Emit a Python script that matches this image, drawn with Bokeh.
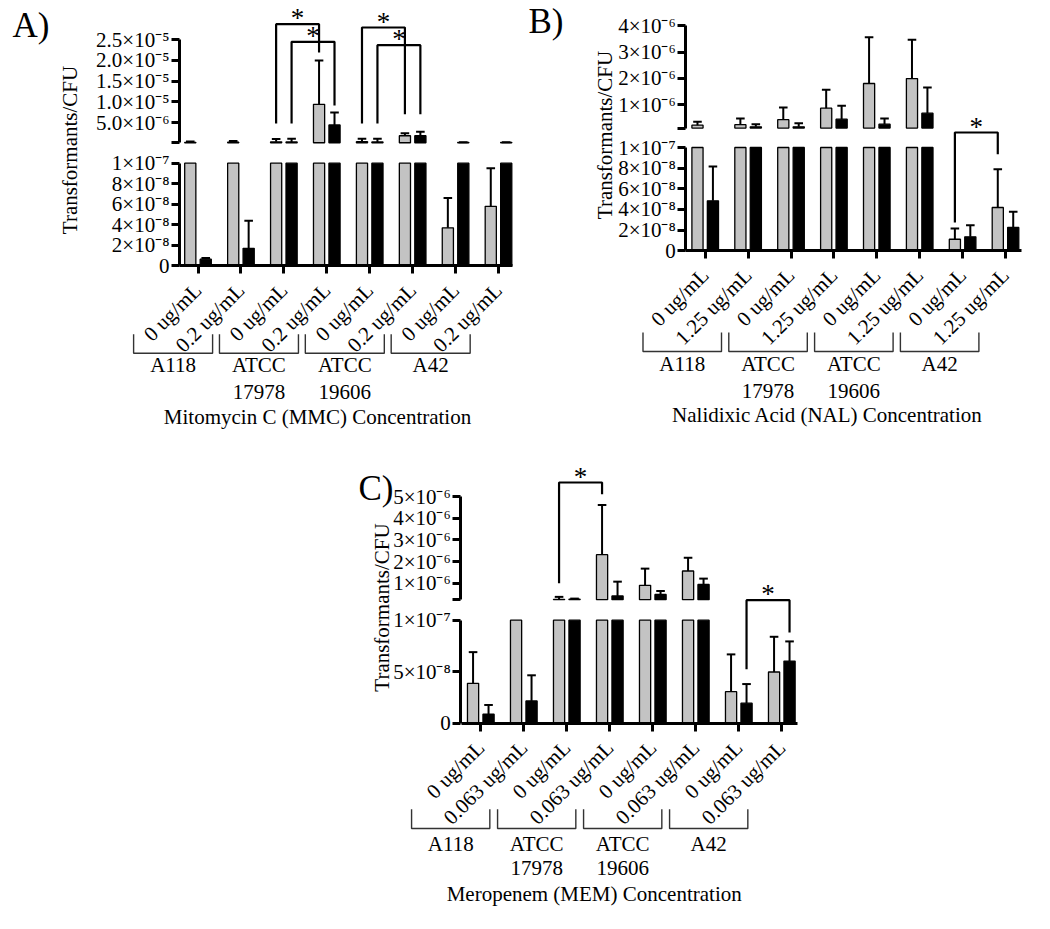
import numpy as np
from math import pi
from bokeh.plotting import figure
from bokeh.models import Range1d, LinearAxis, FixedTicker
from bokeh.core.properties import value
from bokeh.embed import file_html
from bokeh.resources import INLINE

FONT = "Liberation Serif"
GRAY = "#c3c3c3"

# ---------------- data ----------------
strains = ["A118", "ATCC 17978", "ATCC 19606", "A42"]
conc_A = ["0 ug/mL", "0.2 ug/mL"] * 4
conc_B = ["0 ug/mL", "1.25 ug/mL"] * 4
conc_C = ["0 ug/mL", "0.063 ug/mL"] * 4

A_gray = [2.0e-7, 2.5e-7, 3.3e-7, 9.4e-6, 3.5e-7, 1.8e-6, 3.7e-8, 5.8e-8]
A_gray_sd = [2.0e-7, 3.0e-7, 6.5e-7, 1.06e-5, 7.5e-7, 6.0e-7, 2.9e-8, 3.7e-8]
A_black = [6.5e-9, 1.7e-8, 3.0e-7, 4.4e-6, 3.0e-7, 1.8e-6, 2.0e-7, 2.0e-7]
A_black_sd = [1.0e-9, 2.7e-8, 7.5e-7, 3.0e-6, 7.5e-7, 9.5e-7, 5e-8, 5e-8]

B_gray = [2.1e-7, 2.3e-7, 4.2e-7, 8.6e-7, 1.8e-6, 1.99e-6, 1.12e-8, 4.19e-8]
B_gray_sd = [1.3e-7, 2.4e-7, 4.7e-7, 7.0e-7, 1.76e-6, 1.48e-6, 1.04e-8, 3.71e-8]
B_black = [4.84e-8, 1.5e-7, 1.5e-7, 4.4e-7, 2.5e-7, 6.7e-7, 1.35e-8, 2.26e-8]
B_black_sd = [3.32e-8, 1.0e-7, 1.4e-7, 5.1e-7, 2.2e-7, 9.8e-7, 1.13e-8, 1.51e-8]

C_gray = [3.87e-8, 1.8e-7, 2.6e-7, 2.32e-6, 9.1e-7, 1.57e-6, 3.06e-8, 4.97e-8]
C_gray_sd = [3.03e-8, 2.0e-8, 1.2e-7, 2.29e-6, 7.7e-7, 6.1e-7, 3.62e-8, 3.42e-8]
C_black = [8.7e-9, 2.16e-8, 2.7e-7, 4.2e-7, 4.9e-7, 9.5e-7, 1.94e-8, 6.03e-8]
C_black_sd = [9.0e-9, 2.49e-8, 3.0e-8, 6.6e-7, 1.6e-7, 2.7e-7, 1.86e-8, 1.91e-8]

A_hi_ticks = [1e-7, 5e-6, 1e-5, 1.5e-5, 2e-5, 2.5e-5]
A_hi_labels = ["", "5.0×10⁻⁶", "1.0×10⁻⁵", "1.5×10⁻⁵", "2.0×10⁻⁵", "2.5×10⁻⁵"]
A_lo_ticks = [0, 2e-8, 4e-8, 6e-8, 8e-8, 1e-7]
A_lo_labels = ["0", "2×10⁻⁸", "4×10⁻⁸", "6×10⁻⁸", "8×10⁻⁸", "1×10⁻⁷"]
B_hi_ticks = [1e-7, 1e-6, 2e-6, 3e-6, 4e-6]
B_hi_labels = ["", "1×10⁻⁶", "2×10⁻⁶", "3×10⁻⁶", "4×10⁻⁶"]
B_lo_ticks = A_lo_ticks
B_lo_labels = A_lo_labels
C_hi_ticks = [2.5e-7, 1e-6, 2e-6, 3e-6, 4e-6, 5e-6]
C_hi_labels = ["", "1×10⁻⁶", "2×10⁻⁶", "3×10⁻⁶", "4×10⁻⁶", "5×10⁻⁶"]
C_lo_ticks = [0, 5e-8, 1e-7]
C_lo_labels = ["0", "5×10⁻⁸", "1×10⁻⁷"]

# significance brackets: (left category, right category, side, y at start, y top, y end)
A_sig = [(2, 3, -1, 131, 31.7, 60), (2, 3, 1, 131, 49.3, 113),
         (4, 5, -1, 131, 35, 121.7), (4, 5, 1, 131, 52.7, 121.7)]
B_sig = [(6, 7, -1, 230, 140, 161.7)]
C_sig = [(2, 3, -1, 590.7, 490, 501.7), (6, 7, 1, 676.7, 607.7, 640)]

# ---------------- figure ----------------
W, H = 1034, 913
X_LO, X_HI = 8, 8 + W
Y_BOT, Y_TOP = 8 + H, 8

p = figure(width=W, height=H, x_range=Range1d(X_LO, X_HI), y_range=Range1d(Y_BOT, Y_TOP),
           x_axis_type=None, y_axis_type=None, output_backend="svg", toolbar_location=None,
           min_border=0)
p.grid.visible = False
p.outline_line_color = None


def rng(v0, p0, v1, p1, lo, hi):
    k = (v1 - v0) / (p1 - p0)
    return Range1d(start=v0 + (lo - p0) * k, end=v0 + (hi - p0) * k)


OFF = 0.18
BW = 0.26
CAP = 0.2
LO_MAX = 1e-7


def txt(x, y, s, size="21px", align="center", baseline="middle", angle=0, xr="default"):
    p.text(x=[x], y=[y], text=[s], text_font=value(FONT), text_font_size=size,
           text_align=align, text_baseline=baseline, angle=angle, text_color="black",
           x_range_name=xr)


def panel(key, grays, gsd, blacks, bsd, labels, cfg):
    xr, ylo, yhi = key + "x", key + "lo", key + "hi"
    p.extra_x_ranges[xr] = rng(0, cfg["xt0"], 7, cfg["xt7"], X_LO, X_HI)
    p.extra_y_ranges[ylo] = rng(0, cfg["lo0"], LO_MAX, cfg["lo1"], Y_BOT, Y_TOP)
    (v0, p0), (v1, p1) = cfg["hi"]
    p.extra_y_ranges[yhi] = rng(v0, p0, v1, p1, Y_BOT, Y_TOP)
    base = cfg["base"]
    idx = np.arange(len(labels))
    for off, means, sds, color in [(-OFF, grays, gsd, GRAY), (OFF, blacks, bsd, "black")]:
        means = np.array(means)
        sds = np.array(sds)
        x = idx + off
        # lower segment
        p.vbar(x=x, top=np.minimum(means, LO_MAX), bottom=0, width=BW, fill_color=color,
               line_color="black", line_width=1.3, x_range_name=xr, y_range_name=ylo)
        m = means < LO_MAX
        et = np.minimum(means[m] + sds[m], LO_MAX)
        p.segment(x0=x[m], y0=means[m], x1=x[m], y1=et, line_width=2, line_color="black",
                  x_range_name=xr, y_range_name=ylo)
        p.segment(x0=x[m] - CAP / 2, y0=et, x1=x[m] + CAP / 2, y1=et, line_width=2,
                  line_color="black", x_range_name=xr, y_range_name=ylo)
        # upper segment
        h = means > base
        p.vbar(x=x[h], top=means[h], bottom=base, width=BW, fill_color=color,
               line_color="black", line_width=1.3, x_range_name=xr, y_range_name=yhi)
        et = means[h] + sds[h]
        p.segment(x0=x[h], y0=means[h], x1=x[h], y1=et, line_width=2, line_color="black",
                  x_range_name=xr, y_range_name=yhi)
        p.segment(x0=x[h] - CAP / 2, y0=et, x1=x[h] + CAP / 2, y1=et, line_width=2,
                  line_color="black", x_range_name=xr, y_range_name=yhi)

    # axes
    def yaxis(rname, ticks, labs, bounds):
        ax = LinearAxis(y_range_name=rname, fixed_location=cfg["yx"], bounds=bounds,
                        ticker=FixedTicker(ticks=ticks, minor_ticks=[]),
                        major_label_overrides={t: l for t, l in zip(ticks, labs)},
                        axis_line_width=3, major_tick_line_width=3, major_tick_out=8,
                        major_tick_in=0, minor_tick_out=0, major_label_standoff=2,
                        major_label_text_font=FONT, major_label_text_font_size="21px",
                        major_label_text_color="black")
        p.add_layout(ax, "left")

    yaxis(ylo, cfg["lo_ticks"], cfg["lo_labels"], (0, LO_MAX))
    yaxis(yhi, cfg["hi_ticks"], cfg["hi_labels"], (base, cfg["hi_ticks"][-1]))

    xa = LinearAxis(x_range_name=xr, fixed_location=cfg["lo0"], bounds=cfg["xb"],
                    ticker=FixedTicker(ticks=list(idx), minor_ticks=[]),
                    major_label_overrides={int(i): l for i, l in zip(idx, labels)},
                    major_label_orientation=pi / 4,
                    axis_line_width=3, major_tick_line_width=3, major_tick_out=8,
                    major_tick_in=0, minor_tick_out=0, major_label_standoff=13,
                    major_label_text_font=FONT, major_label_text_font_size="21px",
                    major_label_text_color="black")
    p.add_layout(xa, "below")

    # strain group brackets
    bl, br = cfg["gb"]
    gy0, gy1 = cfg["gby"]
    for g, s in enumerate(strains):
        xl, xrr = 2 * g + bl, 2 * g + br
        p.multi_line(xs=[[xl, xl, xrr, xrr]], ys=[[gy0, gy1, gy1, gy0]], line_width=1.4,
                     line_color="#333333", x_range_name=xr)
        xc = (xl + xrr) / 2
        parts = s.split(" ")
        for j, part in enumerate(parts):
            txt(xc, cfg["sy"][j], part, xr=xr)
    txt(cfg["title_x"], cfg["title_y"], cfg["title"])

    # significance
    for a, b, side, ybase, ytop, yend in cfg["sig"]:
        xa0, xb0 = a + side * OFF, b + side * OFF
        p.multi_line(xs=[[xa0, xa0, xb0, xb0]], ys=[[ybase, ytop, ytop, yend]],
                     line_width=2.2, line_color="black", x_range_name=xr)
        txt((xa0 + xb0) / 2, ytop - 6, "*", size="27px", baseline="alphabetic", xr=xr)

    txt(cfg["ylab"][0], cfg["ylab"][1], "Transformants/CFU", angle=pi / 2)
    lx, ly, lt, lb = cfg["letter"]
    txt(lx, ly, lt, size="35px", align="left", baseline=lb)


panel("A", A_gray, A_gray_sd, A_black, A_black_sd, conc_A, dict(
    xt0=205.5, xt7=506.0, lo0=273.3, lo1=170.7, hi=((5e-6, 130.0), (2.5e-5, 47.3)),
    base=1e-7, yx=187.0, xb=(-0.44, 7.33),
    lo_ticks=A_lo_ticks, lo_labels=A_lo_labels, hi_ticks=A_hi_ticks, hi_labels=A_hi_labels,
    gb=(-1.5, 0.34), gby=(341.7, 360.7), sy=(372, 399), title="Mitomycin C (MMC) Concentration",
    title_x=325, title_y=424, sig=A_sig, ylab=(77.5, 157.5), letter=(20, 33, "A)", "middle")))

panel("B", B_gray, B_gray_sd, B_black, B_black_sd, conc_B, dict(
    xt0=712.7, xt7=1013.0, lo0=258.3, lo1=155.0, hi=((1e-6, 112.0), (4e-6, 33.3)),
    base=1e-7, yx=693.3, xb=(-0.46, 7.37),
    lo_ticks=B_lo_ticks, lo_labels=B_lo_labels, hi_ticks=B_hi_ticks, hi_labels=B_hi_labels,
    gb=(-1.45, 0.38), gby=(340, 359), sy=(371, 398), title="Nalidixic Acid (NAL) Concentration",
    title_x=835, title_y=422.5, sig=B_sig, ylab=(612, 142.5), letter=(536, 9, "B)", "top")))

panel("C", C_gray, C_gray_sd, C_black, C_black_sd, conc_C, dict(
    xt0=488.3, xt7=789.3, lo0=730.7, lo1=627.7, hi=((1e-6, 590.9), (5e-6, 504.0)),
    base=2.5e-7, yx=468.3, xb=(-0.46, 7.36),
    lo_ticks=C_lo_ticks, lo_labels=C_lo_labels, hi_ticks=C_hi_ticks, hi_labels=C_hi_labels,
    gb=(-1.61, 0.21), gby=(816.7, 836), sy=(851, 875), title="Meropenem (MEM) Concentration",
    title_x=601.7, title_y=901, sig=C_sig, ylab=(389.5, 615), letter=(366, 496, "C)", "middle")))

open("out.html", "w").write(file_html(p, INLINE))
